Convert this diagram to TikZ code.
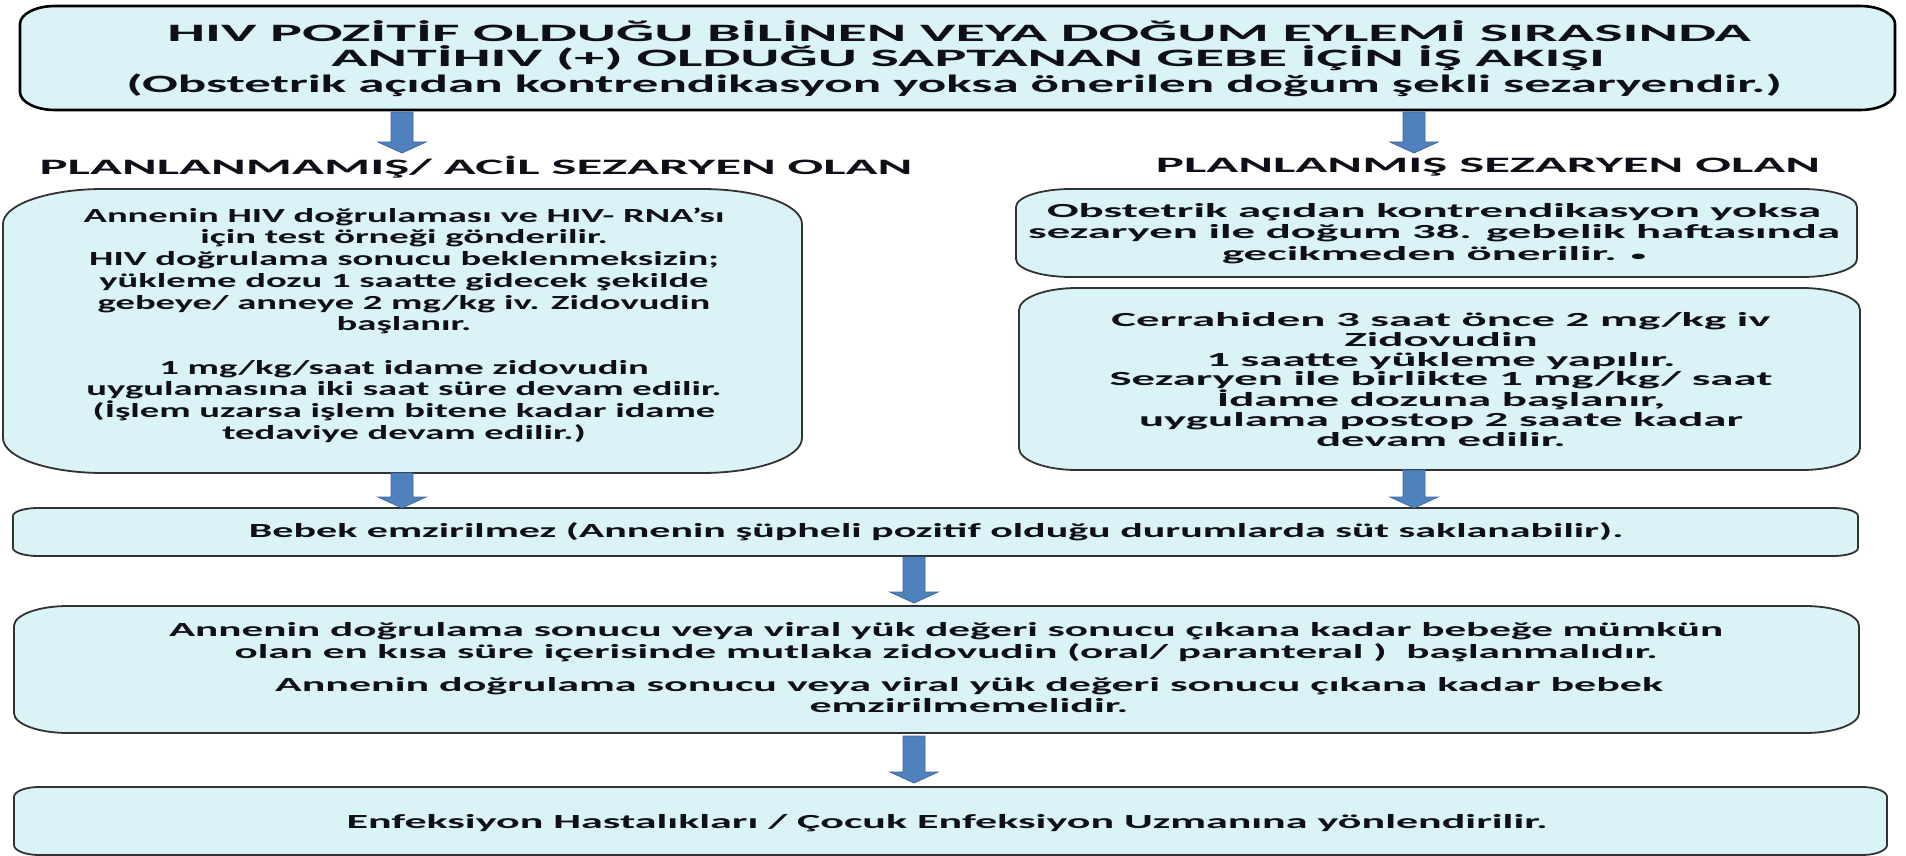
\documentclass[tikz,border=0pt]{standalone}
\usepackage{fontspec}
\usetikzlibrary{calc}
\newfontfamily\capsfont{Carlito}[FakeStretch=2.4]
\newfontfamily\tlfont{Carlito}[FakeStretch=2.12]
\newfontfamily\bodyL{Carlito}[FakeStretch=1.93]
\newfontfamily\bodyR{Carlito}[FakeStretch=2.34]
\newfontfamily\bodyA{Carlito}[FakeStretch=2.1]
\newfontfamily\bodyB{Carlito}[FakeStretch=2.2]
\newfontfamily\bodyC{Carlito}[FakeStretch=2.16]
\definecolor{boxfill}{RGB}{218,243,246}
\definecolor{boxline}{RGB}{50,50,50}
\definecolor{arrowblue}{RGB}{79,129,189}
\definecolor{arrowedge}{RGB}{62,105,160}
\definecolor{txtcol}{RGB}{15,15,25}
\newcommand\ebox[4][boxsty]{%
  \path[#1] let \p1=(#2.south west), \p2=(#2.north east) in
  (\x1+#3,\y1) -- (\x2-#3,\y1)
  arc[start angle=-90,end angle=0,x radius=#3pt,y radius=#4pt] -- (\x2,\y2-#4)
  arc[start angle=0,end angle=90,x radius=#3pt,y radius=#4pt] -- (\x1+#3,\y2)
  arc[start angle=90,end angle=180,x radius=#3pt,y radius=#4pt] -- (\x1,\y1+#4)
  arc[start angle=180,end angle=270,x radius=#3pt,y radius=#4pt] -- cycle;}
\newcommand\barrow[3]{%
  \path[arrowsty] let \p1=(#2), \p2=(#3) in
  (#1-11,\y1) -- (#1+11,\y1) -- (#1+11,\y2+11) -- (#1+24,\y2+11) -- (#1,\y2)
  -- (#1-24,\y2+11) -- (#1-11,\y2+11) -- cycle;}
\begin{document}
\begin{tikzpicture}[x=1pt,y=1pt,
  frame/.style={rectangle,inner sep=0pt,outer sep=0pt},
  boxsty/.style={fill=boxfill,draw=boxline,line width=1.8pt},
  topsty/.style={fill=boxfill,draw=black,line width=2.6pt},
  arrowsty/.style={fill=arrowblue,draw=arrowedge,line width=0.8pt},
  titletxt/.style={text=txtcol,font=\capsfont\bfseries\fontsize{25}{27}\selectfont,inner sep=0pt},
  hdrtxt/.style={text=txtcol,font=\capsfont\bfseries\fontsize{22}{22}\selectfont,inner sep=0pt},
  bodytxt/.style={text=txtcol,font=\bodyA\bfseries\fontsize{20}{21.7}\selectfont,align=center,inner sep=0pt}]
\useasboundingbox (0,0) rectangle (1906,-856);
\fill[white] (0,0) rectangle (1906,-856);
% boxes
\node[frame,minimum width=1875pt,minimum height=104pt] (top) at (957.5,-58) {};
\ebox[topsty]{top}{35}{18}
\node[frame,minimum width=799pt,minimum height=284pt] (lbox) at (402.5,-331) {};
\ebox{lbox}{100}{35}
\node[frame,minimum width=841pt,minimum height=88pt] (rbox1) at (1436.5,-233) {};
\ebox{rbox1}{55}{18}
\node[frame,minimum width=841pt,minimum height=182pt] (rbox2) at (1439.5,-379) {};
\ebox{rbox2}{58}{22}
\node[frame,minimum width=1845pt,minimum height=48pt] (bebek) at (935.5,-532) {};
\ebox{bebek}{25}{8}
\node[frame,minimum width=1845pt,minimum height=127pt] (box4) at (936.5,-669.5) {};
\ebox{box4}{54}{20}
\node[frame,minimum width=1873pt,minimum height=68pt] (box5) at (950.5,-821) {};
\ebox{box5}{25}{10}
% texts
\node[titletxt] (t1) at (959,-31) {HIV POZİTİF OLDUĞU BİLİNEN VEYA DOĞUM EYLEMİ SIRASINDA};
\node[titletxt] (t2) at (968,-58) {ANTİHIV (+) OLDUĞU SAPTANAN GEBE İÇİN İŞ AKIŞI};
\node[titletxt,font=\tlfont\bfseries\fontsize{25}{27}\selectfont] (t3) at (954,-85) {(Obstetrik açıdan kontrendikasyon yoksa önerilen doğum şekli sezaryendir.)};
\node[hdrtxt] (hdrL) at (476,-167) {PLANLANMAMIŞ/ ACİL SEZARYEN OLAN};
\node[hdrtxt] (hdrR) at (1488,-167) {PLANLANMIŞ SEZARYEN OLAN};
\node[bodytxt,font=\bodyL\bfseries\fontsize{20}{21.7}\selectfont] (ltxt) at (404,-325) {Annenin HIV doğrulaması ve HIV- RNA’sı\\
için test örneği gönderilir.\\
HIV doğrulama sonucu beklenmeksizin;\\
yükleme dozu 1 saatte gidecek şekilde\\
gebeye/ anneye 2 mg/kg iv. Zidovudin\\
başlanır.\\
~\\
1 mg/kg/saat idame zidovudin\\
uygulamasına iki saat süre devam edilir.\\
(İşlem uzarsa işlem bitene kadar idame\\
tedaviye devam edilir.)};
\node[bodytxt,font=\bodyR\bfseries\fontsize{20}{21.7}\selectfont] (r1txt) at (1434,-233.5) {Obstetrik açıdan kontrendikasyon yoksa\\
sezaryen ile doğum 38. gebelik haftasında\\
gecikmeden önerilir. {\fontsize{13}{13}\selectfont •}};
\node[bodytxt,font=\bodyR\bfseries\fontsize{20}{19.7}\selectfont] (r2txt) at (1441,-379.5) {Cerrahiden 3 saat önce 2 mg/kg iv\\
Zidovudin\\
1 saatte yükleme yapılır.\\
Sezaryen ile birlikte 1 mg/kg/ saat\\
İdame dozuna başlanır,\\
uygulama postop 2 saate kadar\\
devam edilir.};
\node[bodytxt] (btxt) at (936,-532) {Bebek emzirilmez (Annenin şüpheli pozitif olduğu durumlarda süt saklanabilir).};
\node[bodytxt,font=\bodyC\bfseries\fontsize{20}{21.7}\selectfont] (p1txt) at (946,-642.5) {Annenin doğrulama sonucu veya viral yük değeri sonucu çıkana kadar bebeğe mümkün\\
olan en kısa süre içerisinde mutlaka zidovudin (oral/ paranteral )\ \ başlanmalıdır.};
\node[bodytxt,font=\bodyB\bfseries\fontsize{20}{21.7}\selectfont] (p2txt) at (969,-695) {Annenin doğrulama sonucu veya viral yük değeri sonucu çıkana kadar bebek\\
emzirilmemelidir.};
\node[bodytxt,font=\bodyB\bfseries\fontsize{20}{21.7}\selectfont] (etxt) at (947,-823) {Enfeksiyon Hastalıkları / Çocuk Enfeksiyon Uzmanına yönlendirilir.};
% arrows
\coordinate (h1) at (402,-153);
\coordinate (h2) at (1414,-153);
\barrow{402}{[yshift=-2pt]top.south}{h1}
\barrow{1414}{[yshift=-2pt]top.south}{h2}
\barrow{402}{lbox.south}{bebek.north}
\barrow{1414}{rbox2.south}{bebek.north}
\barrow{914}{[yshift=-1pt]bebek.south}{[yshift=3pt]box4.north}
\barrow{914}{[yshift=-3pt]box4.south}{[yshift=4pt]box5.north}
\end{tikzpicture}
\end{document}
